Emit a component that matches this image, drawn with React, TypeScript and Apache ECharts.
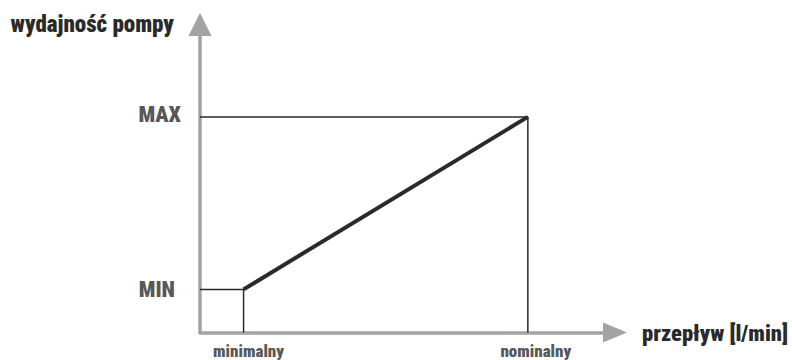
import React, { useEffect, useRef } from "react";
import * as echarts from "echarts";

const flowLabels = ["minimalny", "nominalny"];
const flowValues = [10.5, 79];
const pumpLabels = ["MIN", "MAX"];
const pumpValues = [14, 70];
const yAxisName = "wydajność pompy";
const xAxisName = "przepływ [l/min]";

const FONT = "'Roboto Condensed', 'Roboto', sans-serif";

export default function App() {
  const ref = useRef<HTMLDivElement>(null);
  useEffect(() => {
    if (!ref.current) return;
    const chart = echarts.init(ref.current, undefined, { renderer: "svg" });
    const [fMin, fNom] = flowValues;
    const [pMin, pMax] = pumpValues;
    const axisGray = "#a3a3a3";
    const ink = "#2a2a2a";
    const pumpLabelDist = [25, 19];
    const pumpLabelOffset = [[0, 0], [0, -2]];
    const flowLabelOffset = [[5, 0], [8, 0]];
    chart.setOption({
      animation: false,
      grid: { left: 200, top: 24.5, width: 415, height: 308 },
      xAxis: {
        type: "value",
        min: 0,
        max: 100,
        splitLine: { show: false },
        axisTick: { show: false },
        axisLabel: { show: false },
        axisLine: {
          show: true,
          onZero: false,
          symbol: ["none", "triangle"],
          symbolSize: [20, 24],
          lineStyle: { color: axisGray, width: 3.5 },
        },
        name: xAxisName,
        nameLocation: "end",
        nameGap: 27,
        nameTextStyle: {
          fontFamily: FONT,
          fontWeight: 900,
          fontSize: 22.5,
          color: ink,
          align: "left",
          verticalAlign: "middle",
        },
      },
      yAxis: {
        type: "value",
        min: 0,
        max: 100,
        splitLine: { show: false },
        axisTick: { show: false },
        axisLabel: { show: false },
        axisLine: {
          show: true,
          onZero: false,
          symbol: ["none", "triangle"],
          symbolSize: [23, 23],
          lineStyle: { color: axisGray, width: 3.5 },
        },
        name: yAxisName,
        nameLocation: "end",
        nameGap: 0,
        nameTextStyle: {
          fontFamily: FONT,
          fontWeight: 900,
          fontSize: 23,
          color: ink,
          align: "right",
          verticalAlign: "middle",
          padding: [0, 26, 0, 0],
        },
      },
      series: [
        {
          type: "line",
          data: [[0, pMax], [fNom, pMax], [fNom, 0]],
          symbol: "none",
          lineStyle: { color: ink, width: 1.5 },
          z: 3,
        },
        {
          type: "line",
          data: [[0, pMin], [fMin, pMin], [fMin, 0]],
          symbol: "none",
          lineStyle: { color: ink, width: 1.5 },
          z: 3,
        },
        {
          type: "line",
          data: [[fMin, pMin], [fNom, pMax]],
          symbol: "none",
          lineStyle: { color: ink, width: 4 },
          z: 4,
        },
        {
          type: "scatter",
          symbolSize: 0,
          data: pumpValues.map((v, i) => ({
            value: [0, v],
            name: pumpLabels[i],
            label: { distance: pumpLabelDist[i], offset: pumpLabelOffset[i] },
          })),
          label: {
            show: true,
            position: "left",
            formatter: (p: any) => p.name,
            fontFamily: FONT,
            fontWeight: 900,
            fontSize: 22,
            color: ink,
          },
          z: 5,
        },
        {
          type: "scatter",
          symbolSize: 0,
          data: flowValues.map((v, i) => ({
            value: [v, 0],
            name: flowLabels[i],
            label: { offset: flowLabelOffset[i] },
          })),
          label: {
            show: true,
            position: "bottom",
            distance: 10,
            formatter: (p: any) => p.name,
            fontFamily: FONT,
            fontWeight: 900,
            fontSize: 17,
            lineHeight: 17,
            color: ink,
          },
          z: 5,
        },
      ],
    });
    return () => chart.dispose();
  }, []);
  return <div ref={ref} style={{ width: 792, height: 360, position: "absolute", left: 0, top: 0 }} />;
}
